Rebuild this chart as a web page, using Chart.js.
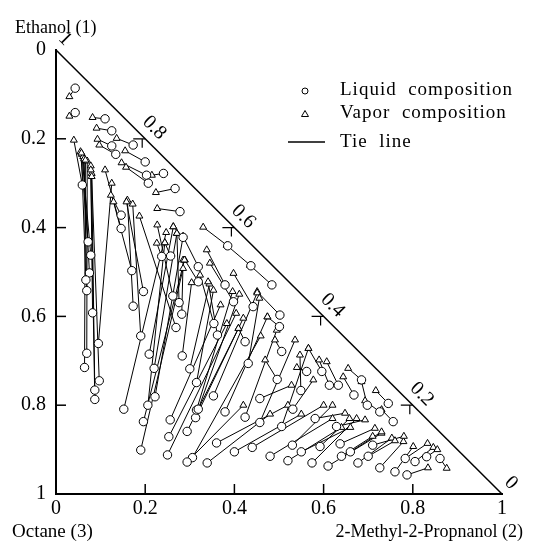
<!DOCTYPE html>
<html>
<head>
<meta charset="utf-8">
<script src="https://cdn.jsdelivr.net/npm/chart.js@4/dist/chart.umd.min.js"></script>
<style>
  html, body { margin: 0; padding: 0; background: #fff; }
  #wrap { width: 545px; height: 542px; }
</style>
</head>
<body>
<div id="wrap"><canvas id="ternary" width="545" height="542"></canvas></div>
<script>
// Tie line end points, one entry per tie line (x = 2-methyl-2-propanol, y = ethanol)
const liquidX = [0.043,0.043,0.110,0.125,0.125,0.134,0.173,0.200,0.203,0.207,0.241,0.267,0.278,0.385,0.437,0.484,0.285,0.379,0.398,0.319,0.319,0.442,0.502,0.501,0.506,0.596,0.613,0.633,0.685,0.668,0.698,0.745,0.726,0.756,
  0.059,0.072,0.078,0.075,0.067,0.069,0.069,0.064,0.082,0.087,0.087,0.097,0.095,0.146,0.146,0.170,0.173,0.196,0.190,0.152,0.237,0.257,0.262,0.276,0.282,0.269,
  0.209,0.220,0.222,0.206,0.196,0.190,0.283,0.300,0.315,0.256,0.253,0.250,0.294,0.313,0.315,0.306,0.319,0.353,0.379,0.424,0.457,0.506,0.431,0.424,0.362,0.354,0.457,0.531,0.549,0.581,0.496,0.562,
  0.629,0.592,0.637,0.574,0.610,0.677,0.726,0.760,0.787,0.783,0.805,0.831,0.861,0.294,0.339,0.360,0.400,0.440,0.480,0.520,0.550,0.530,0.660,0.700,0.710,0.640];
const liquidY = [0.086,0.141,0.155,0.182,0.216,0.235,0.214,0.252,0.282,0.300,0.278,0.312,0.364,0.441,0.486,0.529,0.422,0.529,0.567,0.488,0.522,0.578,0.597,0.623,0.679,0.724,0.755,0.755,0.743,0.777,0.800,0.796,0.815,0.837,
  0.304,0.432,0.462,0.502,0.518,0.542,0.683,0.715,0.592,0.766,0.787,0.745,0.661,0.372,0.402,0.497,0.577,0.544,0.644,0.809,0.465,0.464,0.554,0.569,0.595,0.625,
  0.685,0.717,0.781,0.800,0.837,0.901,0.689,0.718,0.749,0.833,0.871,0.912,0.859,0.828,0.811,0.918,0.809,0.779,0.815,0.827,0.839,0.848,0.706,0.657,0.642,0.616,0.785,0.809,0.767,0.830,0.742,0.724,
  0.848,0.893,0.887,0.930,0.937,0.930,0.941,0.950,0.957,0.920,0.927,0.916,0.920,0.928,0.930,0.885,0.905,0.895,0.915,0.925,0.905,0.890,0.905,0.915,0.890,0.915];
const vaporX = [0.030,0.030,0.082,0.091,0.093,0.097,0.136,0.155,0.147,0.157,0.215,0.224,0.227,0.330,0.383,0.435,0.263,0.338,0.345,0.285,0.289,0.398,0.451,0.474,0.491,0.566,0.590,0.607,0.655,0.644,0.685,0.717,0.693,0.730,
  0.040,0.055,0.058,0.061,0.057,0.063,0.070,0.066,0.078,0.080,0.078,0.080,0.125,0.123,0.110,0.129,0.160,0.158,0.172,0.247,0.226,0.244,0.227,0.271,0.285,0.187,
  0.263,0.271,0.285,0.244,0.288,0.285,0.304,0.344,0.353,0.369,0.383,0.404,0.409,0.420,0.396,0.459,0.411,0.451,0.474,0.495,0.536,0.566,0.456,0.409,0.341,0.323,0.528,0.577,0.547,0.648,0.469,0.540,
  0.693,0.658,0.715,0.674,0.730,0.753,0.779,0.801,0.834,0.833,0.846,0.855,0.876,0.420,0.480,0.520,0.550,0.600,0.620,0.640,0.660,0.620,0.730,0.760,0.780,0.710];
const vaporY = [0.105,0.149,0.152,0.176,0.201,0.214,0.199,0.227,0.254,0.264,0.282,0.321,0.357,0.399,0.440,0.485,0.398,0.450,0.480,0.420,0.473,0.503,0.544,0.601,0.653,0.672,0.698,0.702,0.717,0.736,0.747,0.767,0.790,0.810,
  0.203,0.229,0.235,0.240,0.232,0.245,0.250,0.248,0.261,0.278,0.270,0.285,0.300,0.327,0.270,0.342,0.338,0.342,0.347,0.411,0.435,0.434,0.394,0.413,0.473,0.374,
  0.398,0.413,0.420,0.434,0.473,0.492,0.524,0.527,0.541,0.574,0.616,0.593,0.627,0.604,0.544,0.644,0.550,0.547,0.601,0.631,0.653,0.672,0.559,0.627,0.522,0.507,0.755,0.743,0.687,0.818,0.698,0.715,
  0.833,0.830,0.852,0.830,0.863,0.874,0.882,0.893,0.941,0.886,0.895,0.900,0.942,0.800,0.820,0.800,0.820,0.800,0.830,0.850,0.850,0.800,0.860,0.880,0.870,0.870];

// Axis tick labels
const tickValues = [0, 0.2, 0.4, 0.6, 0.8, 1];
const diagonalLabels = ['1', '0.8', '0.6', '0.4', '0.2', '0'];

const serif = 'Liberation Serif';

// plain tick text: 0, 0.2 ... 1
function tickText(v) {
  return (v === 0 || v === 1) ? String(v) : v.toFixed(1);
}

// one dataset per tie line so the segments stay separate
const tieLineSets = liquidX.map((x, i) => ({
  type: 'line',
  data: [{ x: x, y: liquidY[i] }, { x: vaporX[i], y: vaporY[i] }],
  borderColor: '#000',
  borderWidth: 1,
  pointRadius: 0,
  fill: false,
  order: 3
}));

const ternaryFrame = {
  id: 'ternaryFrame',
  afterDraw(chart) {
    const ctx = chart.ctx;
    const xs = chart.scales.x, ys = chart.scales.y;
    ctx.save();
    ctx.strokeStyle = '#000';
    ctx.fillStyle = '#000';

    // hypotenuse
    ctx.lineWidth = 1.5;
    ctx.beginPath();
    ctx.moveTo(xs.getPixelForValue(0), ys.getPixelForValue(0));
    ctx.lineTo(xs.getPixelForValue(1), ys.getPixelForValue(1));
    ctx.stroke();

    // inward ticks on the two axes
    ctx.lineWidth = 1.5;
    tickValues.slice(1, 5).forEach(v => {
      const py = ys.getPixelForValue(v);
      ctx.beginPath();
      ctx.moveTo(xs.left, py);
      ctx.lineTo(xs.left + 10, py);
      ctx.stroke();
      const px = xs.getPixelForValue(v);
      ctx.beginPath();
      ctx.moveTo(px, ys.bottom);
      ctx.lineTo(px, ys.bottom - 10);
      ctx.stroke();
    });

    // ticks and labels along the hypotenuse
    ctx.lineWidth = 1.2;
    ctx.font = '20px "' + serif + '"';
    ctx.textAlign = 'center';
    ctx.textBaseline = 'middle';
    tickValues.forEach((v, i) => {
      const px = xs.getPixelForValue(v);
      const py = ys.getPixelForValue(v);
      if (i > 0 && i < 5) {
        ctx.beginPath();
        ctx.moveTo(px - 12, py);
        ctx.lineTo(px, py);
        ctx.moveTo(px - 3, py);
        ctx.lineTo(px - 3, py + 9);
        ctx.stroke();
      }
      ctx.save();
      ctx.translate(px + 9, py - 11);
      ctx.rotate(Math.PI / 4);
      ctx.fillText(diagonalLabels[i], 0, 0);
      ctx.restore();
    });

    // axis titles
    ctx.textAlign = 'left';
    ctx.font = '18px "' + serif + '"';
    ctx.fillText('Ethanol (1)', 15, 28);
    ctx.font = '19px "' + serif + '"';
    ctx.fillText('Octane (3)', 12, 532);
    ctx.textAlign = 'right';
    ctx.font = '18px "' + serif + '"';
    ctx.fillText('2-Methyl-2-Propnanol (2)', 523, 532);

    // legend
    ctx.textAlign = 'left';
    ctx.lineWidth = 1;
    ctx.beginPath();
    ctx.arc(305, 91, 3, 0, Math.PI * 2);
    ctx.stroke();
    ctx.beginPath();
    ctx.moveTo(305, 110.5);
    ctx.lineTo(308.5, 116.5);
    ctx.lineTo(301.5, 116.5);
    ctx.closePath();
    ctx.stroke();
    ctx.lineWidth = 1.3;
    ctx.beginPath();
    ctx.moveTo(288, 142);
    ctx.lineTo(325, 142);
    ctx.stroke();
    ctx.font = '19px "' + serif + '"';
    ctx.letterSpacing = '1px';
    ctx.fillText('Liquid  composition', 340, 90);
    ctx.fillText('Vapor  composition', 340, 113);
    ctx.fillText('Tie  line', 340, 142);
    ctx.restore();
  }
};

new Chart(document.getElementById('ternary'), {
  type: 'scatter',
  data: {
    datasets: [
      {
        label: 'Liquid composition',
        data: liquidX.map((x, i) => ({ x: x, y: liquidY[i] })),
        pointStyle: 'circle',
        pointRadius: 4.2,
        backgroundColor: '#fff',
        borderColor: '#000',
        borderWidth: 1,
        order: 1
      },
      {
        label: 'Vapor composition',
        data: vaporX.map((x, i) => ({ x: x, y: vaporY[i] })),
        pointStyle: 'triangle',
        pointRadius: 4,
        backgroundColor: '#fff',
        borderColor: '#000',
        borderWidth: 1,
        order: 2
      },
      ...tieLineSets
    ]
  },
  options: {
    responsive: false,
    animation: false,
    layout: { padding: { top: 50, right: 43, left: 0, bottom: 0 } },
    plugins: {
      legend: { display: false },
      tooltip: { enabled: false }
    },
    scales: {
      x: {
        type: 'linear',
        min: 0,
        max: 1,
        grid: { display: false, drawTicks: false },
        border: { display: true, color: '#000', width: 2 },
        ticks: {
          stepSize: 0.2,
          padding: 3,
          color: '#000',
          maxRotation: 0,
          font: { family: serif, size: 20 },
          callback: tickText
        },
        afterFit(scale) { scale.height = 48; }
      },
      y: {
        type: 'linear',
        min: 0,
        max: 1,
        reverse: true,
        grid: { display: false, drawTicks: false },
        border: { display: true, color: '#000', width: 2 },
        ticks: {
          stepSize: 0.2,
          padding: 10,
          color: '#000',
          font: { family: serif, size: 20 },
          callback: tickText
        },
        afterFit(scale) { scale.width = 56; }
      }
    }
  },
  plugins: [ternaryFrame]
});
</script>
</body>
</html>
